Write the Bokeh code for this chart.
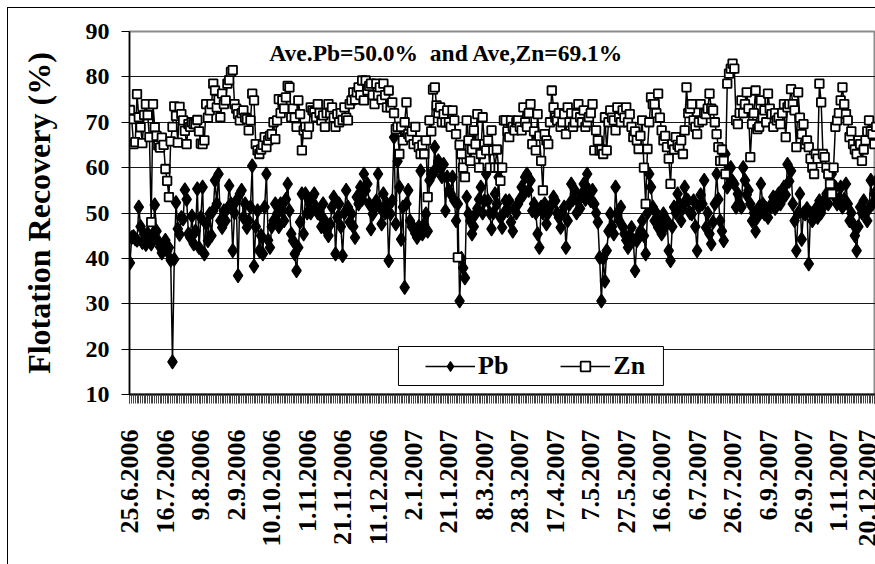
import math
from bokeh.plotting import figure
from bokeh.models import (Range1d, FixedTicker, Legend, LegendItem, Label, BoxAnnotation)
from bokeh.embed import file_html
from bokeh.resources import INLINE

# ---------------- data ----------------
tick_labels = ["25.6.2006", "16.7.2006", "9.8.2006", "2.9.2006", "10.10.2006", "1.11.2006",
               "21.11.2006", "11.12.2006", "2.1.2007", "21.1.2007", "8.3.2007", "28.3.2007",
               "17.4.2007", "7.5.2007", "27.5.2007", "16.6.2007", "6.7.2007", "26.7.2007",
               "6.9.2007", "26.9.2007", "1.11.2007", "20.12.2007"]
label_step = 20
y_ticks = [10, 20, 30, 40, 50, 60, 70, 80, 90]
ave_pb = 50.0
ave_zn = 69.1

pb = [39.0, 44.6, 44.8, 44.3, 44.0, 51.3, 47.0, 43.5, 45.3, 43.1,
      45.5, 44.0, 43.2, 45.4, 51.8, 46.0, 43.8, 42.5, 41.2, 42.4,
      44.0, 41.6, 42.4, 39.6, 17.2, 39.8, 52.3, 46.5, 45.3, 49.0,
      48.7, 55.1, 53.0, 45.4, 44.6, 49.3, 43.2, 46.0, 55.3, 42.4,
      49.0, 55.7, 41.0, 47.6, 43.9, 49.8, 45.0, 50.5, 57.2, 52.0,
      58.6, 48.3, 46.8, 50.5, 48.3, 51.0, 56.0, 52.0, 41.7, 50.0,
      52.7, 36.2, 54.2, 55.0, 49.0, 52.0, 46.8, 48.3, 51.3, 60.4,
      38.3, 47.0, 50.5, 41.7, 45.0, 41.0, 51.3, 58.6, 44.0, 42.4,
      47.0, 48.3, 52.0, 49.8, 47.0, 52.0, 50.5, 48.3, 53.0, 56.4,
      50.5, 45.4, 43.9, 41.0, 37.3, 42.4, 48.0, 54.2, 45.4, 54.2,
      50.0, 52.7, 50.0, 53.5, 54.2, 51.3, 50.0, 49.8, 47.0, 52.0,
      48.3, 46.0, 45.0, 47.5, 51.3, 53.5, 41.0, 49.0, 52.0, 47.0,
      40.6, 50.0, 55.0, 51.3, 48.0, 49.8, 47.0, 44.6, 53.5, 52.0,
      55.7, 53.0, 58.6, 55.0, 56.4, 52.0, 46.5, 49.8, 51.0, 52.7,
      58.6, 51.3, 47.6, 54.2, 50.0, 52.0, 39.5, 49.8, 52.7, 66.7,
      47.6, 61.4, 55.7, 44.2, 51.3, 33.6, 52.0, 55.0, 48.3, 47.0,
      46.8, 45.5, 44.6, 47.0, 59.3, 45.4, 47.5, 49.8, 46.0, 57.2,
      58.6, 58.6, 64.5, 60.0, 61.5, 60.0, 58.0, 60.7, 50.5, 57.9,
      55.0, 54.2, 57.9, 52.7, 48.3, 52.0, 30.6, 40.0, 37.9, 35.7,
      53.5, 49.8, 48.3, 45.4, 47.0, 49.8, 51.0, 53.0, 55.7, 50.0,
      52.7, 58.6, 52.7, 50.0, 46.5, 50.0, 54.2, 52.0, 57.9, 49.0,
      46.8, 50.0, 52.7, 50.5, 52.7, 48.0, 46.0, 51.0, 50.0, 52.0,
      53.0, 55.7, 54.0, 57.9, 58.6, 55.0, 57.2, 50.5, 52.0, 50.0,
      45.4, 42.4, 51.3, 50.0, 52.0, 47.6, 50.0, 51.3, 52.0, 53.5,
      52.7, 50.0, 49.0, 46.8, 50.0, 51.3, 42.4, 48.3, 52.0, 56.4,
      53.0, 55.0, 50.0, 52.7, 51.0, 54.2, 56.4, 53.0, 58.6, 55.0,
      52.7, 55.0, 52.0, 50.0, 48.0, 40.2, 30.6, 40.0, 35.0, 41.7,
      46.0, 49.8, 47.0, 45.4, 55.7, 50.0, 48.3, 51.3, 47.0, 45.4,
      44.0, 42.4, 45.0, 46.8, 44.0, 37.3, 43.9, 45.0, 46.0, 48.3,
      45.0, 41.0, 50.0, 58.6, 55.7, 51.3, 48.3, 50.0, 46.8, 48.0,
      45.4, 49.8, 47.0, 48.3, 41.7, 39.5, 47.0, 51.3, 50.0, 54.2,
      52.0, 48.3, 51.0, 55.7, 53.0, 52.7, 50.0, 49.8, 52.7, 47.0,
      41.7, 51.3, 54.0, 52.0, 57.2, 46.8, 50.0, 45.4, 43.2, 48.0,
      52.0, 58.6, 53.0, 48.3, 46.0, 43.9, 63.0, 55.7, 58.0, 60.0,
      57.0, 56.4, 51.3, 54.2, 52.0, 51.3, 60.0, 57.2, 54.0, 55.0,
      52.0, 48.3, 50.0, 46.0, 49.0, 51.3, 56.4, 52.0, 49.8, 51.0,
      49.0, 51.0, 52.0, 53.5, 51.0, 52.7, 54.2, 52.0, 53.0, 55.7,
      54.0, 60.7, 57.0, 59.3, 52.0, 48.3, 41.7, 50.0, 54.2, 44.2,
      50.0, 49.8, 51.0, 38.8, 50.0, 48.3, 50.0, 51.0, 49.0, 52.7,
      50.0, 51.3, 53.0, 54.2, 52.0, 57.2, 58.6, 54.0, 55.7, 52.0,
      53.0, 55.7, 51.3, 53.0, 56.4, 52.0, 48.3, 50.0, 47.6, 45.0,
      41.7, 47.0, 51.3, 50.0, 52.7, 50.0, 48.3, 51.0, 57.2, 52.0,
      54.2, 57.0]

zn = [72.7, 70.7, 65.2, 65.6, 76.2, 71.1, 68.9, 65.4, 71.6, 74.0,
      71.6, 66.7, 48.0, 74.0, 68.9, 67.0, 64.9, 64.4, 66.6, 65.0,
      59.7, 57.1, 53.5, 65.8, 69.0, 73.5, 71.4, 65.5, 73.4, 71.8,
      70.4, 68.1, 65.2, 69.6, 69.0, 70.0, 69.6, 69.6, 70.5, 68.0,
      65.3, 65.2, 66.0, 74.0, 71.0, 72.6, 74.0, 78.5, 77.0, 73.3,
      75.0, 71.1, 76.3, 74.0, 74.8, 78.5, 79.3, 81.1, 81.5, 74.0,
      73.0, 71.8, 70.4, 72.0, 72.6, 71.0, 70.7, 68.2, 70.4, 76.3,
      74.8, 65.2, 63.8, 63.0, 64.0, 65.0, 66.7, 64.5, 66.0, 67.0,
      67.4, 70.0, 66.3, 70.4, 75.1, 72.0, 74.8, 73.0, 75.5, 78.0,
      77.7, 71.1, 73.0, 71.0, 69.0, 74.8, 71.8, 63.8, 68.2, 69.0,
      67.4, 69.0, 73.3, 72.6, 72.2, 71.1, 74.0, 72.0, 70.4, 71.5,
      69.0, 72.0, 74.0, 72.0, 73.3, 71.0, 69.0, 71.8, 70.0, 72.0,
      70.5, 73.3, 71.0, 70.4, 74.0, 74.8, 76.6, 75.0, 76.6, 77.7,
      76.0, 79.2, 74.8, 79.2, 77.0, 78.0, 78.5, 76.0, 74.0, 78.5,
      76.0, 77.7, 75.0, 78.5, 76.0, 73.3, 77.0, 73.3, 74.4, 72.0,
      68.5, 69.0, 63.0, 69.0, 66.0, 70.0, 74.4, 67.4, 66.7, 68.0,
      65.2, 69.0, 66.0, 64.5, 63.0, 65.0, 63.0, 66.0, 53.5, 70.4,
      68.0, 77.2, 77.7, 73.7, 72.0, 73.3, 70.0, 71.8, 70.0, 72.6,
      70.0, 69.0, 72.6, 70.4, 67.4, 40.2, 65.0, 63.0, 60.0, 57.9,
      70.4, 66.0, 61.5, 64.0, 68.2, 65.2, 71.8, 60.0, 63.0, 71.1,
      65.2, 63.8, 66.0, 60.0, 68.2, 63.8, 60.0, 64.0, 60.0, 57.1,
      60.0, 70.4, 70.4, 68.0, 66.7, 70.4, 69.0, 68.2, 70.0, 70.4,
      69.0, 68.2, 73.3, 70.0, 69.0, 72.0, 74.0, 65.2, 68.0, 63.8,
      71.8, 67.0, 61.5, 55.0, 67.4, 66.0, 65.2, 70.0, 77.0, 73.3,
      71.0, 70.4, 72.0, 69.0, 70.0, 71.8, 67.4, 73.3, 70.0, 72.0,
      69.0, 70.0, 71.8, 74.0, 71.1, 70.0, 72.6, 69.0, 70.0, 71.1,
      72.0, 74.0, 63.8, 68.2, 66.0, 63.8, 64.0, 63.0, 71.1, 63.8,
      70.0, 72.6, 71.0, 70.4, 68.2, 73.3, 71.1, 70.0, 72.6, 71.0,
      73.3, 70.0, 71.8, 69.0, 66.7, 68.0, 66.0, 64.1, 67.0, 70.4,
      60.0, 52.0, 64.1, 70.0, 75.5, 74.0, 74.0, 72.0, 76.3, 71.0,
      68.2, 66.0, 67.0, 64.5, 62.0, 56.4, 65.2, 64.0, 66.7, 65.0,
      64.5, 66.0, 63.0, 68.2, 77.7, 72.0, 73.0, 74.0, 70.4, 69.0,
      67.4, 70.0, 74.0, 70.4, 72.0, 71.8, 73.0, 76.3, 73.0, 72.6,
      70.0, 67.4, 64.5, 61.5, 64.0, 61.5, 58.6, 78.5, 80.7, 81.8,
      82.9, 81.8, 70.4, 69.6, 72.0, 74.8, 72.0, 74.0, 76.6, 73.0,
      62.3, 69.6, 72.0, 77.0, 68.5, 69.0, 74.8, 71.0, 72.6, 70.0,
      76.3, 73.0, 71.8, 69.0, 72.0, 70.4, 71.0, 69.6, 72.0, 74.0,
      66.7, 73.3, 74.0, 77.3, 74.0, 72.6, 64.5, 76.6, 71.0, 67.4,
      69.6, 65.2, 66.0, 64.5, 62.0, 60.0, 58.6, 63.0, 62.0, 78.5,
      74.4, 63.0, 62.3, 60.0, 58.6, 56.4, 54.2, 60.0, 69.0, 70.4,
      72.0, 74.8, 77.7, 74.0, 71.8, 70.4, 66.7, 68.0, 65.2, 64.0,
      63.0, 66.0, 65.2, 61.5, 64.0, 66.0, 68.0, 70.4, 68.0, 67.4,
      65.2, 69.0]

# ---------------- figure ----------------
FONT = "Liberation Serif"
idx = list(range(len(pb)))

p = figure(width=867, height=556, output_backend="svg", toolbar_location=None,
           x_range=Range1d(-0.25, 420.65), y_range=Range1d(y_ticks[0], y_ticks[-1]),
           min_border_left=121, min_border_top=23, min_border_bottom=170, min_border_right=0,
           background_fill_color="white", border_fill_color="white",
           styles={"margin-left": "8px", "margin-top": "8px",
                   "outline": "1px solid #000000"})

p.outline_line_color = "#8c8c8c"
p.outline_line_width = 2

# grid
p.xgrid.visible = False
p.ygrid.grid_line_color = "#1a1a1a"
p.ygrid.grid_line_width = 1

# y axis
p.yaxis.ticker = FixedTicker(ticks=y_ticks)
p.yaxis.axis_line_color = "black"
p.yaxis.axis_line_width = 1.5
p.yaxis.major_tick_out = 8
p.yaxis.major_tick_in = 0
p.yaxis.minor_tick_line_color = None
p.yaxis.major_label_standoff = 12
p.yaxis.major_label_text_font = FONT
p.yaxis.major_label_text_font_style = "bold"
p.yaxis.major_label_text_font_size = "24px"
p.yaxis.major_label_text_color = "black"
p.yaxis.axis_label = "Flotation Recovery (%)"
p.yaxis.axis_label_text_font = FONT
p.yaxis.axis_label_text_font_style = "bold"
p.yaxis.axis_label_text_font_size = "32px"
p.yaxis.axis_label_text_color = "black"
p.yaxis.axis_label_standoff = 26

# x axis (category index)
major = [k * label_step for k in range(len(tick_labels))]
p.xaxis.ticker = FixedTicker(ticks=major, minor_ticks=idx)
p.xaxis.major_label_overrides = {major[k]: tick_labels[k] for k in range(len(tick_labels))}
p.xaxis.major_label_orientation = math.pi / 2
p.xaxis.axis_line_color = "black"
p.xaxis.axis_line_width = 2
p.xaxis.major_tick_out = 9
p.xaxis.major_tick_in = 0
p.xaxis.minor_tick_out = 9
p.xaxis.minor_tick_in = 0
p.xaxis.major_tick_line_color = "black"
p.xaxis.minor_tick_line_color = "#444444"
p.xaxis.major_label_standoff = 26
p.xaxis.major_label_text_font = FONT
p.xaxis.major_label_text_font_style = "bold"
p.xaxis.major_label_text_font_size = "26px"
p.xaxis.major_label_text_color = "black"

# series
pb_line = p.line(idx, pb, line_color="black", line_width=1.5)
pb_pts = p.scatter(idx, pb, marker="diamond", size=14,
                   fill_color="black", line_color="black", line_width=1.2)
zn_line = p.line(idx, zn, line_color="black", line_width=1.5)
zn_pts = p.scatter(idx, zn, marker="square", size=8.5, fill_color="white",
                   line_color="black", line_width=1.8)

# title inside the plot area
title = Label(x=178.6, y=85.2, text=f"Ave.Pb={ave_pb:.1f}%\u00a0 and Ave,Zn={ave_zn:.1f}%",
              text_align="center", text_baseline="middle", text_font=FONT,
              text_font_style="bold", text_font_size="23.5px", text_color="black")
p.add_layout(title)

# legend box + legend
box = BoxAnnotation(left=151.5, right=301.0, bottom=11.98, top=20.58,
                    fill_color="white", fill_alpha=1.0, line_color="black",
                    line_alpha=1.0, line_width=1)
p.add_layout(box)

legend = Legend(items=[LegendItem(label="Pb", renderers=[pb_line, pb_pts]),
                       LegendItem(label="Zn", renderers=[zn_line, zn_pts])],
                orientation="horizontal", location=(288, 5), margin=0, padding=8,
                spacing=52, glyph_width=50, glyph_height=24, label_standoff=3,
                background_fill_alpha=0, border_line_alpha=0,
                label_text_font=FONT, label_text_font_style="bold",
                label_text_font_size="26px", label_text_color="black")
p.add_layout(legend, "center")

open("out.html", "w").write(file_html(p, INLINE))
